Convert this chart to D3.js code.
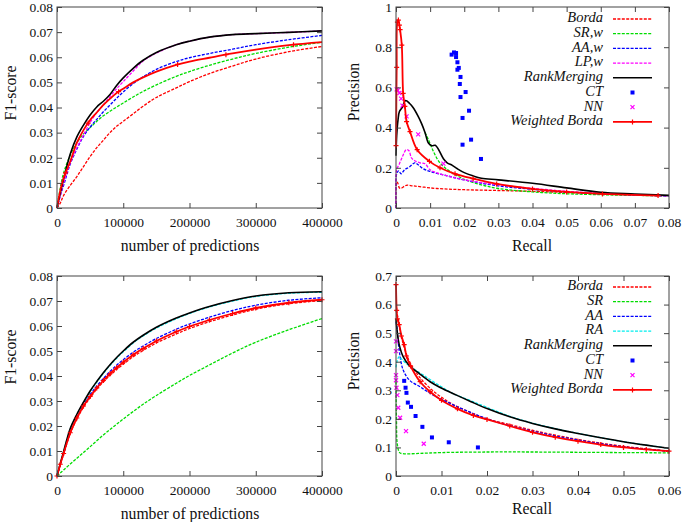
<!DOCTYPE html>
<html lang="en">
<head>
<meta charset="UTF-8">
<title>RankMerging link prediction results</title>
<script src="https://cdn.jsdelivr.net/npm/d3@7"></script>
<style>
  body { margin: 0; background: #fff; }
  svg { display: block; }
  svg text { font-family: "Liberation Serif", "Times New Roman", Times, serif; }
</style>
</head>
<body>
<div id="container"></div>
<script>
// ---------- data ----------
// F1-score panels share the same x grid (number of predictions)
const predX = [0, 5000, 10000, 20000, 30000, 40000, 50000, 60000, 70000, 80000, 90000, 100000,
  115000, 130000, 150000, 180000, 200000, 230000, 265000, 300000, 350000, 400000];
const predTicks = [0, 100000, 200000, 300000, 400000];
const f1Ticks = [0, 0.01, 0.02, 0.03, 0.04, 0.05, 0.06, 0.07, 0.08];

// top-left
const tlBorda = [0, 0.002, 0.005, 0.009, 0.0125, 0.0165, 0.0205, 0.024, 0.027, 0.030, 0.0325, 0.0345,
  0.0375, 0.0405, 0.044, 0.0478, 0.0503, 0.0535, 0.0565, 0.0593, 0.0622, 0.0643];
const tlSRw = [0, 0.008, 0.014, 0.021, 0.026, 0.0295, 0.032, 0.0345, 0.0367, 0.0385, 0.0402, 0.0418,
  0.0442, 0.0464, 0.049, 0.0524, 0.0543, 0.0568, 0.0593, 0.0615, 0.064, 0.066];
const tlAAw = [0, 0.005, 0.009, 0.0175, 0.0235, 0.0285, 0.0322, 0.0353, 0.0383, 0.041, 0.0437, 0.0462,
  0.0495, 0.0522, 0.0552, 0.0583, 0.0598, 0.0615, 0.0632, 0.065, 0.067, 0.0687];
const tlLPw = [0, 0.005, 0.010, 0.018, 0.024, 0.029, 0.034, 0.038, 0.041, 0.0443, 0.0475, 0.0503,
  0.0545, 0.0585, 0.0617, 0.065, 0.0664, 0.068, 0.069, 0.0694, 0.0699, 0.0705];
const tlRank = [0, 0.006, 0.0115, 0.0215, 0.0283, 0.033, 0.037, 0.0402, 0.0425, 0.0452, 0.0488, 0.0518,
  0.0556, 0.0588, 0.0619, 0.065, 0.0664, 0.068, 0.069, 0.0694, 0.0699, 0.0705];
const tlWB = [0, 0.007, 0.012, 0.0185, 0.026, 0.031, 0.035, 0.038, 0.041, 0.0435, 0.0458, 0.0475,
  0.050, 0.052, 0.0543, 0.057, 0.0583, 0.0598, 0.0615, 0.063, 0.0648, 0.066];
const tlWBMarks = [13000, 47000, 93000, 182000, 255000, 357000];

// bottom-left
const blBorda = [0, 0.0045, 0.0088, 0.017, 0.0228, 0.0275, 0.0313, 0.0347, 0.0376, 0.0402, 0.0426, 0.0447,
  0.0477, 0.0502, 0.0532, 0.0568, 0.059, 0.0617, 0.0644, 0.0667, 0.0689, 0.0702];
const blSR = [0, 0.0012, 0.0024, 0.0048, 0.0071, 0.0094, 0.0117, 0.0141, 0.0164, 0.0186, 0.0207, 0.0228,
  0.0258, 0.0287, 0.0322, 0.0371, 0.0402, 0.0444, 0.0492, 0.0535, 0.0585, 0.063];
const blAA = [0, 0.0047, 0.009, 0.0175, 0.0235, 0.0285, 0.0325, 0.036, 0.039, 0.0418, 0.0443, 0.0465,
  0.0495, 0.052, 0.055, 0.0587, 0.0608, 0.0635, 0.0662, 0.0683, 0.0703, 0.0713];
const blRA = [0, 0.0049, 0.0096, 0.0187, 0.0244, 0.0292, 0.0337, 0.0375, 0.0411, 0.0442, 0.0471, 0.0497,
  0.0532, 0.056, 0.0592, 0.0629, 0.065, 0.0676, 0.07, 0.0718, 0.0731, 0.0735];
const blRank = [0, 0.005, 0.0098, 0.019, 0.0247, 0.0295, 0.034, 0.0378, 0.0413, 0.0445, 0.0474, 0.050,
  0.0535, 0.0563, 0.0595, 0.0632, 0.0652, 0.0678, 0.0702, 0.072, 0.0733, 0.0737];
const blWB = [0, 0.0047, 0.009, 0.0173, 0.0232, 0.028, 0.0318, 0.0352, 0.0382, 0.0409, 0.0433, 0.0455,
  0.0485, 0.051, 0.054, 0.0577, 0.0598, 0.0624, 0.065, 0.0672, 0.0693, 0.0705];

// top-right precision vs recall, [recall, precision]
const trRecallTicks = [0, 0.01, 0.02, 0.03, 0.04, 0.05, 0.06, 0.07, 0.08];
const trPrecTicks = [0, 0.2, 0.4, 0.6, 0.8, 1];
const trBorda = [[0, 0], [0.0002, 0.13], [0.0005, 0.125], [0.001, 0.1], [0.0015, 0.098], [0.003, 0.113],
  [0.005, 0.11], [0.008, 0.104], [0.012, 0.097], [0.02, 0.091], [0.03, 0.087], [0.04, 0.083],
  [0.05, 0.077], [0.06, 0.07], [0.07, 0.065], [0.08, 0.061]];
const trSRw = [[0.0085, 0.376], [0.0095, 0.34], [0.011, 0.28], [0.0129, 0.224], [0.0158, 0.182],
  [0.02, 0.143], [0.025, 0.115], [0.03, 0.097], [0.04, 0.08], [0.05, 0.071], [0.06, 0.066],
  [0.07, 0.063], [0.08, 0.06]];
const trAAw = [[0, 0], [0.0002, 0.17], [0.0008, 0.185], [0.0015, 0.17], [0.0025, 0.19], [0.004, 0.205],
  [0.0055, 0.225], [0.0065, 0.215], [0.008, 0.195], [0.01, 0.182], [0.015, 0.16], [0.02, 0.14],
  [0.03, 0.11], [0.04, 0.093], [0.05, 0.08], [0.06, 0.071], [0.07, 0.065], [0.08, 0.06]];
const trLPw = [[0, 0], [0.0002, 0.19], [0.001, 0.22], [0.002, 0.26], [0.003, 0.29], [0.0038, 0.285],
  [0.0045, 0.25], [0.0055, 0.235], [0.007, 0.225], [0.0085, 0.22], [0.01, 0.19], [0.012, 0.175],
  [0.015, 0.16], [0.02, 0.14], [0.03, 0.115], [0.04, 0.098], [0.05, 0.083], [0.06, 0.073],
  [0.07, 0.066], [0.08, 0.06]];
const trRank = [[0, 0.26], [0.0002, 0.36], [0.0006, 0.44], [0.001, 0.48], [0.0018, 0.5], [0.0028, 0.535],
  [0.004, 0.52], [0.005, 0.5], [0.0065, 0.456], [0.0075, 0.42], [0.0085, 0.376], [0.0095, 0.323],
  [0.0105, 0.31], [0.0115, 0.312], [0.0125, 0.29], [0.0139, 0.245], [0.015, 0.225], [0.0165, 0.212],
  [0.018, 0.195], [0.02, 0.176], [0.0225, 0.16], [0.025, 0.148], [0.03, 0.14], [0.04, 0.123],
  [0.05, 0.1], [0.06, 0.078], [0.07, 0.07], [0.08, 0.063]];
const trCT = [[0.0163, 0.763], [0.017, 0.774], [0.0176, 0.771], [0.0176, 0.751], [0.018, 0.725],
  [0.018, 0.688], [0.0184, 0.697], [0.0189, 0.652], [0.0187, 0.617], [0.0189, 0.552], [0.0204, 0.577],
  [0.0195, 0.448], [0.0214, 0.484], [0.0195, 0.315], [0.022, 0.34], [0.0249, 0.244]];
const trNN = [[0.0002, 0.59], [0.0005, 0.585], [0.001, 0.572], [0.0015, 0.544], [0.0019, 0.509],
  [0.0031, 0.456], [0.0065, 0.366], [0.0139, 0.221]];
const trWB = [[0, 0.31], [0.0002, 0.7], [0.0004, 0.925], [0.0007, 0.935], [0.001, 0.91], [0.0012, 0.887],
  [0.0017, 0.81], [0.0021, 0.57], [0.0026, 0.506], [0.0031, 0.43], [0.0041, 0.38], [0.0062, 0.29],
  [0.0098, 0.232], [0.0129, 0.2], [0.0173, 0.17], [0.0226, 0.146], [0.0295, 0.12], [0.04, 0.095],
  [0.05, 0.08], [0.0605, 0.07], [0.0768, 0.062]];

// bottom-right precision vs recall
const brRecallTicks = [0, 0.01, 0.02, 0.03, 0.04, 0.05, 0.06];
const brPrecTicks = [0, 0.1, 0.2, 0.3, 0.4, 0.5, 0.6, 0.7];
const brBorda = [[0, 0.58], [0.0005, 0.55], [0.001, 0.5], [0.002, 0.44], [0.003, 0.4], [0.005, 0.35],
  [0.008, 0.3], [0.012, 0.255], [0.016, 0.225], [0.02, 0.2], [0.025, 0.18], [0.03, 0.16],
  [0.035, 0.143], [0.04, 0.128], [0.045, 0.115], [0.05, 0.104], [0.055, 0.095], [0.06, 0.086]];
const brSR = [[0, 0.33], [0.0001, 0.2], [0.0003, 0.11], [0.0008, 0.082], [0.0015, 0.078], [0.005, 0.079],
  [0.01, 0.082], [0.02, 0.084], [0.03, 0.084], [0.04, 0.083], [0.05, 0.082], [0.06, 0.081]];
const brAA = [[0, 0.54], [0.0002, 0.52], [0.0007, 0.44], [0.0016, 0.37], [0.003, 0.335], [0.0053, 0.312],
  [0.0082, 0.283], [0.0119, 0.254], [0.016, 0.225], [0.02, 0.2], [0.025, 0.176], [0.03, 0.157],
  [0.035, 0.14], [0.04, 0.126], [0.045, 0.113], [0.05, 0.102], [0.055, 0.094], [0.06, 0.087]];
const brRA = [[0, 0.38], [0.0003, 0.405], [0.0007, 0.418], [0.0012, 0.41], [0.0023, 0.393], [0.0038, 0.376],
  [0.006, 0.353], [0.0097, 0.315], [0.0126, 0.288], [0.0165, 0.263], [0.02, 0.24], [0.025, 0.209],
  [0.03, 0.185], [0.035, 0.166], [0.04, 0.149], [0.045, 0.134], [0.05, 0.12], [0.055, 0.108], [0.06, 0.097]];
const brRank = [[0, 0.55], [0.0003, 0.5], [0.0007, 0.46], [0.0016, 0.417], [0.003, 0.385], [0.005, 0.36],
  [0.0075, 0.33], [0.0097, 0.31], [0.0133, 0.283], [0.0165, 0.26], [0.02, 0.236], [0.025, 0.207],
  [0.03, 0.184], [0.035, 0.165], [0.04, 0.149], [0.045, 0.134], [0.05, 0.12], [0.055, 0.108], [0.06, 0.097]];
const brCT = [[0.0018, 0.333], [0.0021, 0.309], [0.0023, 0.291], [0.0026, 0.257], [0.0033, 0.242],
  [0.0043, 0.21], [0.0058, 0.172], [0.0079, 0.135], [0.0116, 0.118], [0.018, 0.1]];
const brNN = [[0, 0.471], [0, 0.437], [0, 0.353], [0, 0.335], [0.0001, 0.309], [0.0003, 0.283],
  [0.0005, 0.239], [0.0009, 0.204], [0.0022, 0.157], [0.0061, 0.113]];
const brWB = [[0, 0.67], [0.00015, 0.58], [0.0003, 0.55], [0.0007, 0.53], [0.0012, 0.49], [0.0018, 0.46],
  [0.0023, 0.42], [0.0032, 0.385], [0.0053, 0.33], [0.0075, 0.295], [0.01, 0.265], [0.0135, 0.235],
  [0.017, 0.212], [0.02, 0.198], [0.025, 0.175], [0.03, 0.153], [0.035, 0.136], [0.04, 0.122],
  [0.045, 0.11], [0.05, 0.1], [0.055, 0.093], [0.06, 0.087]];

// ---------- drawing ----------
const RED = "#ff0000", GREEN = "#00dd00", BLUE = "#0000ff", MAGENTA = "#ff00ff",
  CYAN = "#00eeee", BLACK = "#000000";
const DASH = "3,1.4";
const FONT = '"Liberation Serif", "Times New Roman", Times, serif';
const zip = (xs, ys) => xs.map((x, i) => [x, ys[i]]);
const fmt = d => String(+d.toFixed(3));

const svg = d3.select("#container").append("svg")
  .attr("width", 685).attr("height", 522)
  .attr("font-family", FONT);

function drawPanel(p) {
  const x = d3.scaleLinear().domain(p.xDomain).range([p.left, p.right]);
  const y = d3.scaleLinear().domain(p.yDomain).range([p.bottom, p.top]);
  const g = svg.append("g");

  // series
  const line = d3.line().x(d => x(d[0])).y(d => y(d[1])).curve(d3.curveCatmullRom.alpha(0.5));
  p.series.forEach(s => {
    if (s.line) {
      g.append("path").datum(s.data)
        .attr("fill", "none").attr("stroke", s.color)
        .attr("stroke-width", s.width || 1.3)
        .attr("stroke-dasharray", s.dash ? DASH : null)
        .attr("d", line);
    }
    const marks = s.marks || (s.marker ? s.data : []);
    marks.forEach(d => drawMarker(g, s.marker, x(d[0]), y(d[1]), s.color));
  });

  // frame and inward ticks (mirrored on all four sides)
  g.append("rect").attr("x", p.left).attr("y", p.top)
    .attr("width", p.right - p.left).attr("height", p.bottom - p.top)
    .attr("fill", "none").attr("stroke", "#444").attr("stroke-width", 1);

  const axes = [
    [d3.axisBottom(x).tickValues(p.xTicks).tickSize(-5).tickPadding(9).tickFormat(fmt), `translate(0,${p.bottom})`],
    [d3.axisTop(x).tickValues(p.xTicks).tickSize(-5).tickFormat(""), `translate(0,${p.top})`],
    [d3.axisLeft(y).tickValues(p.yTicks).tickSize(-5).tickPadding(4).tickFormat(fmt), `translate(${p.left},0)`],
    [d3.axisRight(y).tickValues(p.yTicks).tickSize(-5).tickFormat(""), `translate(${p.right},0)`]
  ];
  axes.forEach(([ax, tr]) => {
    const a = g.append("g").attr("transform", tr).call(ax).attr("font-family", FONT);
    a.select(".domain").remove();
    a.selectAll("line").attr("stroke", "#444");
    a.selectAll("text").attr("fill", "#111").style("font-size", "13.5px");
  });

  // axis titles
  g.append("text").attr("x", p.xTitle[0]).attr("y", p.xTitle[1])
    .attr("text-anchor", "middle").attr("dominant-baseline", "middle")
    .style("font-size", "15.7px").attr("fill", "#111").text(p.xLabel);
  g.append("text").attr("transform", `translate(${p.yTitle[0]},${p.yTitle[1]}) rotate(-90)`)
    .attr("text-anchor", "middle").attr("dominant-baseline", "middle")
    .style("font-size", "15.7px").attr("fill", "#111").text(p.yLabel);

  // legend
  if (p.legend) {
    p.series.forEach((s, i) => {
      const ly = p.legend.y + i * p.legend.step;
      g.append("text").attr("x", p.legend.x).attr("y", ly)
        .attr("text-anchor", "end").attr("dominant-baseline", "middle")
        .style("font-size", "14.5px").style("font-style", "italic").attr("fill", "#111")
        .text(s.name);
      const x0 = p.legend.x + 10, x1 = p.legend.x + 49;
      if (s.line) {
        g.append("line").attr("x1", x0).attr("x2", x1).attr("y1", ly).attr("y2", ly)
          .attr("stroke", s.color).attr("stroke-width", s.width || 1.3)
          .attr("stroke-dasharray", s.dash ? DASH : null);
      }
      if (s.marker) drawMarker(g, s.marker, (x0 + x1) / 2, ly, s.color);
    });
  }
}

function drawMarker(g, shape, cx, cy, color) {
  if (shape === "square") {
    g.append("rect").attr("x", cx - 2).attr("y", cy - 2).attr("width", 4).attr("height", 4)
      .attr("fill", color);
  } else if (shape === "cross") {
    g.append("path").attr("d", `M${cx - 2},${cy - 2}L${cx + 2},${cy + 2}M${cx - 2},${cy + 2}L${cx + 2},${cy - 2}`)
      .attr("stroke", color).attr("stroke-width", 1.2);
  } else if (shape === "plus") {
    g.append("path").attr("d", `M${cx - 2.5},${cy}L${cx + 2.5},${cy}M${cx},${cy - 2.5}L${cx},${cy + 2.5}`)
      .attr("stroke", color).attr("stroke-width", 1.2);
  }
}

// interpolated marker positions on the top-left weighted Borda curve
const tlWBScale = d3.scaleLinear().domain(predX).range(tlWB);

drawPanel({
  left: 57, right: 322, top: 7, bottom: 208,
  xDomain: [0, 400000], yDomain: [0, 0.08], xTicks: predTicks, yTicks: f1Ticks,
  xLabel: "number of predictions", yLabel: "F1-score", xTitle: [190, 247], yTitle: [12, 93],
  series: [
    { name: "Borda", data: zip(predX, tlBorda), color: RED, dash: true, line: true },
    { name: "SR,w", data: zip(predX, tlSRw), color: GREEN, dash: true, line: true },
    { name: "AA,w", data: zip(predX, tlAAw), color: BLUE, dash: true, line: true },
    { name: "LP,w", data: zip(predX, tlLPw), color: MAGENTA, dash: true, line: true },
    { name: "RankMerging", data: zip(predX, tlRank), color: BLACK, line: true, width: 1.6 },
    { name: "Weighted Borda", data: zip(predX, tlWB), color: RED, line: true, width: 1.8, marker: "plus",
      marks: tlWBMarks.map(v => [v, tlWBScale(v)]) }
  ]
});

drawPanel({
  left: 396, right: 669, top: 7, bottom: 208,
  xDomain: [0, 0.08], yDomain: [0, 1], xTicks: trRecallTicks, yTicks: trPrecTicks,
  xLabel: "Recall", yLabel: "Precision", xTitle: [532, 247], yTitle: [355, 92],
  legend: { x: 603, y: 19, step: 14.7 },
  series: [
    { name: "Borda", data: trBorda, color: RED, dash: true, line: true },
    { name: "SR,w", data: trSRw, color: GREEN, dash: true, line: true },
    { name: "AA,w", data: trAAw, color: BLUE, dash: true, line: true },
    { name: "LP,w", data: trLPw, color: MAGENTA, dash: true, line: true },
    { name: "RankMerging", data: trRank, color: BLACK, line: true, width: 1.6 },
    { name: "CT", data: trCT, color: BLUE, marker: "square" },
    { name: "NN", data: trNN, color: MAGENTA, marker: "cross" },
    { name: "Weighted Borda", data: trWB, color: RED, line: true, width: 1.8, marker: "plus" }
  ]
});

drawPanel({
  left: 57, right: 322, top: 276, bottom: 476,
  xDomain: [0, 400000], yDomain: [0, 0.08], xTicks: predTicks, yTicks: f1Ticks,
  xLabel: "number of predictions", yLabel: "F1-score", xTitle: [190, 515], yTitle: [12, 357],
  series: [
    { name: "Borda", data: zip(predX, blBorda), color: RED, dash: true, line: true },
    { name: "SR", data: zip(predX, blSR), color: GREEN, dash: true, line: true },
    { name: "AA", data: zip(predX, blAA), color: BLUE, dash: true, line: true },
    { name: "RA", data: zip(predX, blRA), color: CYAN, dash: true, line: true },
    { name: "RankMerging", data: zip(predX, blRank), color: BLACK, line: true, width: 1.6 },
    { name: "Weighted Borda", data: zip(predX, blWB), color: RED, line: true, width: 1.8, marker: "plus" }
  ]
});

drawPanel({
  left: 396, right: 669, top: 276, bottom: 476,
  xDomain: [0, 0.06], yDomain: [0, 0.7], xTicks: brRecallTicks, yTicks: brPrecTicks,
  xLabel: "Recall", yLabel: "Precision", xTitle: [532, 510], yTitle: [355, 361],
  legend: { x: 603, y: 287, step: 14.7 },
  series: [
    { name: "Borda", data: brBorda, color: RED, dash: true, line: true },
    { name: "SR", data: brSR, color: GREEN, dash: true, line: true },
    { name: "AA", data: brAA, color: BLUE, dash: true, line: true },
    { name: "RA", data: brRA, color: CYAN, dash: true, line: true },
    { name: "RankMerging", data: brRank, color: BLACK, line: true, width: 1.6 },
    { name: "CT", data: brCT, color: BLUE, marker: "square" },
    { name: "NN", data: brNN, color: MAGENTA, marker: "cross" },
    { name: "Weighted Borda", data: brWB, color: RED, line: true, width: 1.8, marker: "plus" }
  ]
});
</script>
</body>
</html>
